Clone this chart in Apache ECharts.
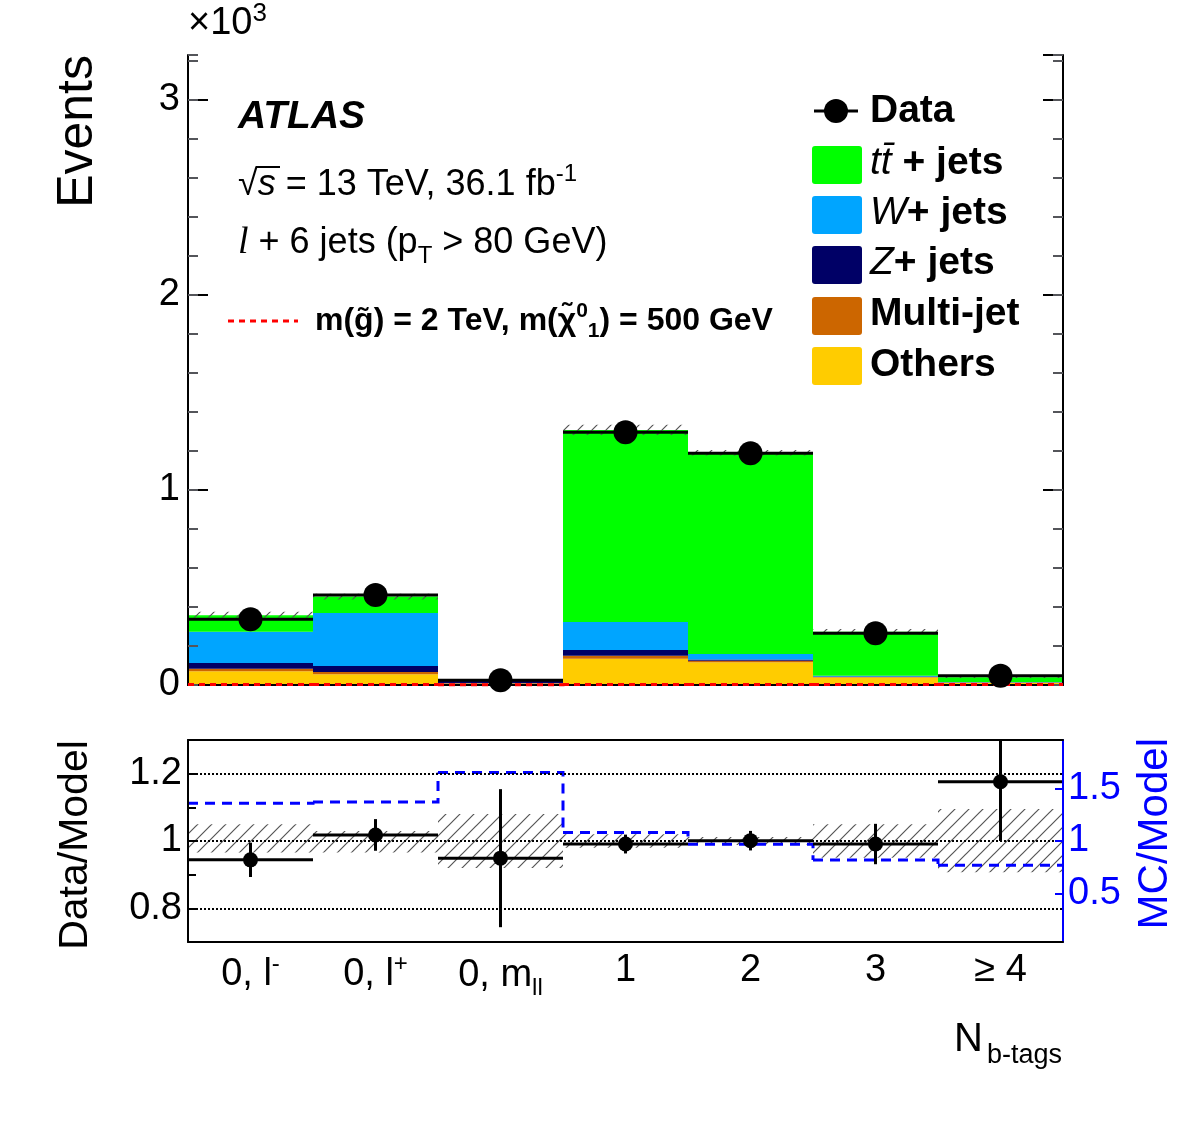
<!DOCTYPE html>
<html>
<head>
<meta charset="utf-8">
<script src="https://cdn.jsdelivr.net/npm/echarts@6/dist/echarts.min.js"></script>
<style>
  html, body { margin: 0; background: #fff; }
  #chart { width: 1182px; height: 1123px; }
</style>
</head>
<body>
<div id="chart"></div>
<script>
// bins on the x axis (rich markup for the sub/superscripts)
const binLabels = ['0, l{sup|-}', '0, l{sup|+}', '0, m{sub|ll}', '1', '2', '3', '\u2265 4'];

// stacked backgrounds, events per bin (bottom of the stack first)
const others   = [70, 55, 8, 135, 116, 38, 12];
const multijet = [13, 12, 1, 15, 8, 3, 1];
const zjets    = [30, 30, 14, 29, 7, 2, 1];
const wjets    = [160, 272, 1, 144, 28, 5, 1];
const ttbar    = [85, 85, 1, 985, 1032, 225, 25];

// signal m(gluino)=2 TeV, m(chi)=500 GeV, basically zero here
const signal = [2, 2, 1, 3, 3, 3, 2];

// data
const dataVals = [337, 461, 24, 1296, 1188, 265, 47];
const dataErr  = [18, 21, 5, 36, 34, 16, 8];

// ratio panel
const ratioVals = [0.944, 1.018, 0.949, 0.991, 1.001, 0.991, 1.176];
const ratioErr  = [0.051, 0.047, 0.205, 0.028, 0.029, 0.060, 0.176];
const bandLo    = [0.966, 0.966, 0.920, 0.980, 0.988, 0.950, 0.907];
const bandHi    = [1.050, 1.030, 1.080, 1.020, 1.012, 1.050, 1.095];
const mcModel   = [1.36, 1.37, 1.65, 1.08, 0.97, 0.82, 0.77];

// axis ticks
const mainMajorTicks = 1000;
const mainMinorTicks = 200;
const ratioLeftLabels = ['0.8', '1', '1.2'];
const ratioRightTicks = [0.5, 1, 1.5];

const FONT = '"Liberation Sans", Arial, Helvetica, sans-serif';
const colors = {
    others: '#ffcc00',
    multijet: '#cc6600',
    zjets: '#000066',
    wjets: '#00a5ff',
    ttbar: '#00ff00'
};

const totals = others.map((v, i) => v + multijet[i] + zjets[i] + wjets[i] + ttbar[i]);

// hatch pattern for the uncertainty bands
function hatchCanvas() {
    const s = 14;
    const c = document.createElement('canvas');
    c.width = s; c.height = s;
    const g = c.getContext('2d');
    g.strokeStyle = '#555';
    g.lineWidth = 1.2;
    g.beginPath();
    g.moveTo(0, s); g.lineTo(s, 0);
    g.moveTo(-s / 2, s / 2); g.lineTo(s / 2, -s / 2);
    g.moveTo(s / 2, s * 1.5); g.lineTo(s * 1.5, s / 2);
    g.stroke();
    return c;
}
const hatch = { image: hatchCanvas(), repeat: 'repeat' };

function bandRender(params, api) {
    const i = params.dataIndex;
    const w = api.size([1, 0])[0];
    const hi = api.coord([i, api.value(2)]);
    const lo = api.coord([i, api.value(1)]);
    return {
        type: 'rect',
        shape: { x: hi[0] - w / 2, y: hi[1], width: w, height: lo[1] - hi[1] },
        style: { fill: hatch }
    };
}

function stepRender(vals, color, width, dash) {
    return function (params, api) {
        const i = params.dataIndex;
        const w = api.size([1, 0])[0];
        const p = api.coord([i, vals[i]]);
        const pts = [[p[0] - w / 2, p[1]], [p[0] + w / 2, p[1]]];
        if (i < vals.length - 1) {
            const q = api.coord([i + 1, vals[i + 1]]);
            pts.push([p[0] + w / 2, q[1]]);
        }
        return {
            type: 'polyline',
            shape: { points: pts },
            style: { stroke: color, lineWidth: width, lineDash: dash, fill: null }
        };
    };
}

function errRender(params, api) {
    const i = params.dataIndex;
    const w = api.size([1, 0])[0];
    const v = api.value(1), e = api.value(2);
    const c = api.coord([i, v]);
    const up = api.coord([i, v + e]);
    const dn = api.coord([i, v - e]);
    const st = { stroke: '#000', lineWidth: 3 };
    return {
        type: 'group',
        children: [
            { type: 'line', shape: { x1: c[0] - w / 2, y1: c[1], x2: c[0] + w / 2, y2: c[1] }, style: st },
            { type: 'line', shape: { x1: c[0], y1: up[1], x2: c[0], y2: dn[1] }, style: st }
        ]
    };
}

const chart = echarts.init(document.getElementById('chart'));

const tickLabel = { fontSize: 38, color: '#000', fontFamily: FONT };
const frameLine = { show: true, lineStyle: { color: '#000', width: 2 } };

function stackBar(name, vals, color) {
    return {
        name: name, type: 'bar', stack: 'bkg', xAxisIndex: 0, yAxisIndex: 0,
        barCategoryGap: '0%', barWidth: '100%',
        itemStyle: { color: color }, data: vals, z: 2
    };
}

// rich text pieces for the graphic labels
function tok(size, extra) {
    return Object.assign({ fontSize: size, fontFamily: FONT, fill: '#000' }, extra || {});
}

const legendItalic = tok(39, { fontStyle: 'italic', fontWeight: 'normal' });

const option = {
    animation: false,
    backgroundColor: '#fff',
    textStyle: { fontFamily: FONT },
    grid: [
        { left: 188, top: 55, width: 875, height: 630 },
        { left: 188, top: 740, width: 875, height: 202 }
    ],
    xAxis: [
        { type: 'category', gridIndex: 0, data: binLabels, position: 'bottom', z: 10,
          axisLine: frameLine, axisTick: { inside: true, length: 25, alignWithLabel: true, lineStyle: { width: 2 } },
          axisLabel: { show: false }, splitLine: { show: false } },
        { type: 'category', gridIndex: 0, data: binLabels, position: 'top', z: 10,
          axisLine: frameLine, axisTick: { inside: true, length: 25, alignWithLabel: true, lineStyle: { width: 2 } },
          axisLabel: { show: false }, splitLine: { show: false } },
        { type: 'category', gridIndex: 1, data: binLabels, position: 'bottom', z: 10,
          axisLine: frameLine, axisTick: { inside: true, length: 25, alignWithLabel: true, lineStyle: { width: 2 } },
          axisLabel: Object.assign({ margin: 10, interval: 0,
              rich: { sup: { fontSize: 24, padding: [0, 0, 22, 0], fontFamily: FONT },
                      sub: { fontSize: 24, padding: [24, 0, 0, 0], fontFamily: FONT } } }, tickLabel),
          splitLine: { show: false } },
        { type: 'category', gridIndex: 1, data: binLabels, position: 'top', z: 10,
          axisLine: frameLine, axisTick: { inside: true, length: 25, alignWithLabel: true, lineStyle: { width: 2 } },
          axisLabel: { show: false }, splitLine: { show: false } }
    ],
    yAxis: [
        // main panel
        { type: 'value', gridIndex: 0, position: 'left', min: 0, max: 3230, interval: mainMajorTicks, z: 10,
          axisLine: frameLine, axisTick: { show: true, inside: true, length: 20, lineStyle: { width: 2 } },
          axisLabel: Object.assign({ margin: 8, showMaxLabel: false, formatter: v => String(v / 1000) }, tickLabel),
          splitLine: { show: false } },
        { type: 'value', gridIndex: 0, position: 'left', min: 0, max: 3230, interval: mainMinorTicks, z: 10,
          axisLine: { show: false }, axisTick: { show: true, inside: true, length: 10, lineStyle: { width: 2 } },
          axisLabel: { show: false }, splitLine: { show: false } },
        { type: 'value', gridIndex: 0, position: 'right', min: 0, max: 3230, interval: mainMajorTicks, z: 10,
          axisLine: frameLine, axisTick: { show: true, inside: true, length: 20, lineStyle: { width: 2 } },
          axisLabel: { show: false }, splitLine: { show: false } },
        { type: 'value', gridIndex: 0, position: 'right', min: 0, max: 3230, interval: mainMinorTicks, z: 10,
          axisLine: { show: false }, axisTick: { show: true, inside: true, length: 10, lineStyle: { width: 2 } },
          axisLabel: { show: false }, splitLine: { show: false } },
        // ratio panel
        { type: 'value', gridIndex: 1, position: 'left', min: 0.7, max: 1.3, interval: 0.1, z: 10,
          axisLine: frameLine, axisTick: { show: true, inside: true, length: 8, lineStyle: { width: 2 } },
          axisLabel: Object.assign({ margin: 6, showMinLabel: false, showMaxLabel: false,
              formatter: v => {
                  const s = String(Math.round(v * 10) / 10);
                  return ratioLeftLabels.indexOf(s) >= 0 ? s : '';
              } }, tickLabel),
          splitLine: { show: false } },
        { type: 'value', gridIndex: 1, position: 'right', min: 0.04, max: 1.96, z: 10,
          axisLine: { show: true, lineStyle: { color: '#0000ff', width: 2 } },
          axisTick: { show: true, inside: true, length: 8, customValues: ratioRightTicks, lineStyle: { color: '#0000ff', width: 2 } },
          axisLabel: Object.assign({}, tickLabel, { color: '#0000ff', margin: 5, customValues: ratioRightTicks }),
          splitLine: { show: false } }
    ],
    series: [
        stackBar('Others', others, colors.others),
        stackBar('Multi-jet', multijet, colors.multijet),
        stackBar('Z+ jets', zjets, colors.zjets),
        stackBar('W+ jets', wjets, colors.wjets),
        stackBar('ttbar + jets', ttbar, colors.ttbar),
        { name: 'bkg unc', type: 'custom', xAxisIndex: 0, yAxisIndex: 0, z: 3,
          renderItem: bandRender,
          data: totals.map((t, i) => [i, t * bandLo[i], t * bandHi[i]]) },
        // drawn above the frame so the dashes near zero stay visible
        { name: 'signal', type: 'custom', xAxisIndex: 0, yAxisIndex: 0, z: 11,
          renderItem: stepRender(signal, '#ff0000', 3, [6, 5]),
          data: signal.map((v, i) => [i, v]) },
        { name: 'Data err', type: 'custom', xAxisIndex: 0, yAxisIndex: 0, z: 5,
          renderItem: errRender,
          data: dataVals.map((v, i) => [i, v, dataErr[i]]) },
        { name: 'Data', type: 'scatter', xAxisIndex: 0, yAxisIndex: 0, z: 12,
          symbol: 'circle', symbolSize: 24, itemStyle: { color: '#000', opacity: 1 },
          data: dataVals.map((v, i) => [i, v]) },
        // ratio panel
        { name: 'ratio unc', type: 'custom', xAxisIndex: 2, yAxisIndex: 4, z: 3, clip: true,
          renderItem: bandRender,
          data: bandLo.map((v, i) => [i, v, bandHi[i]]) },
        { name: 'MC/Model', type: 'custom', xAxisIndex: 2, yAxisIndex: 5, z: 4, clip: true,
          renderItem: stepRender(mcModel, '#0000ff', 3, [10, 7]),
          data: mcModel.map((v, i) => [i, v]) },
        { name: 'ratio err', type: 'custom', xAxisIndex: 2, yAxisIndex: 4, z: 5, clip: true,
          renderItem: errRender,
          data: ratioVals.map((v, i) => [i, v, ratioErr[i]]) },
        { name: 'ratio', type: 'scatter', xAxisIndex: 2, yAxisIndex: 4, z: 6,
          symbol: 'circle', symbolSize: 15, itemStyle: { color: '#000', opacity: 1 },
          data: ratioVals.map((v, i) => [i, v]),
          markLine: { silent: true, symbol: 'none', label: { show: false },
              lineStyle: { color: '#000', type: 'dotted', width: 2 },
              data: [{ yAxis: 0.8 }, { yAxis: 1 }, { yAxis: 1.2 }] } }
    ],
    graphic: [
        // axis titles
        { type: 'text', x: 78, y: 55, rotation: Math.PI / 2,
          style: { text: 'Events', fontSize: 50, fontFamily: FONT, fill: '#000', textAlign: 'right', textVerticalAlign: 'middle' } },
        { type: 'text', x: 188, y: 47,
          style: { text: '{m|\u00d710}{sup|3}', fontSize: 38, fontFamily: FONT, fill: '#000', textAlign: 'left', textVerticalAlign: 'bottom',
                   rich: { m: tok(38), sup: tok(26, { padding: [0, 0, 20, 0] }) } } },
        { type: 'text', x: 76, y: 845, rotation: Math.PI / 2,
          style: { text: 'Data/Model', fontSize: 41, fontFamily: FONT, fill: '#000', textAlign: 'center', textVerticalAlign: 'middle' } },
        { type: 'text', x: 1155, y: 738, rotation: Math.PI / 2,
          style: { text: 'MC/Model', fontSize: 42, fontFamily: FONT, fill: '#0000ff', textAlign: 'right', textVerticalAlign: 'middle' } },
        { type: 'text', x: 1062, y: 1040,
          style: { text: '{m|N}{sub|b-tags}', fontSize: 40, fontFamily: FONT, fill: '#000', textAlign: 'right', textVerticalAlign: 'middle',
                   rich: { m: tok(40), sub: tok(27, { padding: [32, 0, 0, 4] }) } } },
        // ATLAS label and run info
        { type: 'text', x: 238, y: 117,
          style: { text: 'ATLAS', fontSize: 39, fontWeight: 'bold', fontStyle: 'italic', fontFamily: FONT, fill: '#000', textAlign: 'left', textVerticalAlign: 'middle' } },
        { type: 'text', x: 238, y: 185,
          style: { text: '{m|\u221a}{i|s}{m| = 13 TeV, 36.1 fb}{sup|-1}', fontSize: 36, fontFamily: FONT, fill: '#000', textAlign: 'left', textVerticalAlign: 'middle',
                   rich: { m: tok(36), i: tok(36, { fontStyle: 'italic' }), sup: tok(24, { padding: [0, 0, 22, 0] }) } } },
        { type: 'line', shape: { x1: 256, y1: 167, x2: 280, y2: 167 }, style: { stroke: '#000', lineWidth: 2 } },
        { type: 'text', x: 238, y: 243,
          style: { text: '{l|l}{m| + 6 jets (p}{sub|T}{m| > 80 GeV)}', fontSize: 36, fontFamily: FONT, fill: '#000', textAlign: 'left', textVerticalAlign: 'middle',
                   rich: { m: tok(36), l: tok(38, { fontStyle: 'italic', fontFamily: '"Liberation Serif", serif' }), sub: tok(24, { padding: [26, 0, 0, 0] }) } } },
        { type: 'line', shape: { x1: 228, y1: 321, x2: 298, y2: 321 },
          style: { stroke: '#ff0000', lineWidth: 3, lineDash: [6, 5] } },
        { type: 'text', x: 315, y: 321,
          style: { text: '{b|m(g\u0303) = 2 TeV, m(\u03c7\u0303}{sup|0}{sub|1}{b|) = 500 GeV}', fontSize: 32, fontWeight: 'bold', fontFamily: FONT, fill: '#000', textAlign: 'left', textVerticalAlign: 'middle',
                   rich: { b: tok(32, { fontWeight: 'bold' }), sup: tok(21, { fontWeight: 'bold', padding: [0, 0, 20, 0] }), sub: tok(21, { fontWeight: 'bold', padding: [20, 0, 0, 0] }) } } },
        // legend
        { type: 'line', shape: { x1: 814, y1: 111, x2: 858, y2: 111 }, style: { stroke: '#000', lineWidth: 3 } },
        { type: 'circle', shape: { cx: 836, cy: 111, r: 12 }, style: { fill: '#000' } },
        { type: 'text', x: 870, y: 111,
          style: { text: 'Data', fontSize: 39, fontWeight: 'bold', fontFamily: FONT, fill: '#000', textVerticalAlign: 'middle' } },
        { type: 'rect', shape: { x: 812, y: 146, width: 50, height: 38, r: 3 }, style: { fill: colors.ttbar } },
        { type: 'text', x: 870, y: 163,
          style: { text: '{i|tt\u0304}{b| + jets}', fontSize: 39, fontWeight: 'bold', fontFamily: FONT, fill: '#000', textVerticalAlign: 'middle',
                   rich: { i: legendItalic, b: tok(39, { fontWeight: 'bold' }) } } },
        { type: 'rect', shape: { x: 812, y: 196, width: 50, height: 38, r: 3 }, style: { fill: colors.wjets } },
        { type: 'text', x: 870, y: 213,
          style: { text: '{i|W}{b|+ jets}', fontSize: 39, fontWeight: 'bold', fontFamily: FONT, fill: '#000', textVerticalAlign: 'middle',
                   rich: { i: legendItalic, b: tok(39, { fontWeight: 'bold' }) } } },
        { type: 'rect', shape: { x: 812, y: 246, width: 50, height: 38, r: 3 }, style: { fill: colors.zjets } },
        { type: 'text', x: 870, y: 263,
          style: { text: '{i|Z}{b|+ jets}', fontSize: 39, fontWeight: 'bold', fontFamily: FONT, fill: '#000', textVerticalAlign: 'middle',
                   rich: { i: legendItalic, b: tok(39, { fontWeight: 'bold' }) } } },
        { type: 'rect', shape: { x: 812, y: 297, width: 50, height: 38, r: 3 }, style: { fill: colors.multijet } },
        { type: 'text', x: 870, y: 314,
          style: { text: 'Multi-jet', fontSize: 39, fontWeight: 'bold', fontFamily: FONT, fill: '#000', textVerticalAlign: 'middle' } },
        { type: 'rect', shape: { x: 812, y: 347, width: 50, height: 38, r: 3 }, style: { fill: colors.others } },
        { type: 'text', x: 870, y: 365,
          style: { text: 'Others', fontSize: 39, fontWeight: 'bold', fontFamily: FONT, fill: '#000', textVerticalAlign: 'middle' } }
    ]
};

chart.setOption(option);
</script>
</body>
</html>
